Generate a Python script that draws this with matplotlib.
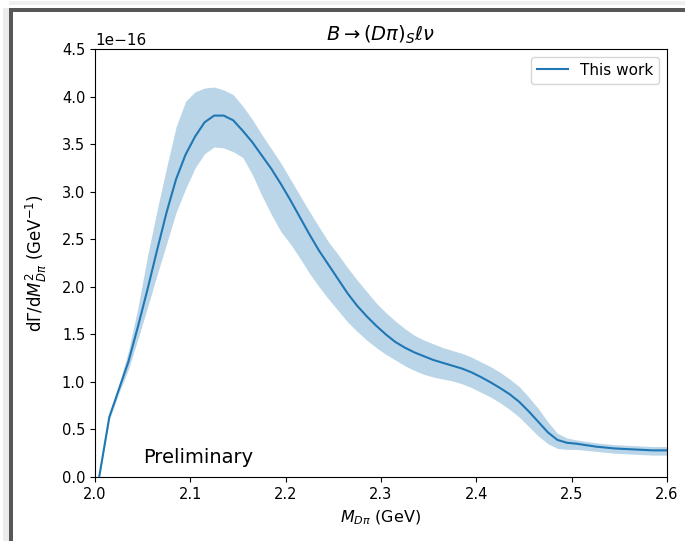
#!/usr/bin/env python3
# -*- coding: utf-8 -*-
"""
Differential rate dGamma/dM^2 for B -> (D pi)_S l nu with error band
"""
import numpy as np
import matplotlib.pyplot as plt
from matplotlib.patches import Rectangle

# invariant mass grid (GeV)
m_dpi = [2.0044, 2.015, 2.025, 2.035, 2.045, 2.055, 2.065, 2.075, 2.085,
         2.095, 2.105, 2.115, 2.125, 2.135, 2.145, 2.155, 2.165, 2.175,
         2.185, 2.195, 2.205, 2.215, 2.225, 2.235, 2.245, 2.255, 2.265,
         2.275, 2.285, 2.295, 2.305, 2.315, 2.325, 2.335, 2.345, 2.355,
         2.365, 2.375, 2.385, 2.395, 2.405, 2.415, 2.425, 2.435, 2.445,
         2.455, 2.465, 2.475, 2.485, 2.495, 2.505, 2.525, 2.545, 2.565,
         2.585, 2.6]

# central value (units of 1e-16 GeV^-1)
central = [0.0, 0.63, 0.92, 1.21, 1.58, 1.97, 2.38, 2.78, 3.13,
           3.39, 3.58, 3.73, 3.80, 3.80, 3.75, 3.64, 3.52, 3.38,
           3.24, 3.08, 2.91, 2.73, 2.55, 2.38, 2.23, 2.08, 1.93,
           1.80, 1.69, 1.59, 1.50, 1.42, 1.36, 1.31, 1.27, 1.23,
           1.20, 1.17, 1.14, 1.10, 1.05, 0.995, 0.935, 0.87, 0.79,
           0.69, 0.58, 0.47, 0.39, 0.36, 0.35, 0.32, 0.30, 0.29,
           0.28, 0.28]

upper = [0.0, 0.66, 0.97, 1.32, 1.78, 2.32, 2.80, 3.25, 3.68,
         3.95, 4.05, 4.09, 4.10, 4.07, 4.02, 3.90, 3.76, 3.60,
         3.45, 3.30, 3.13, 2.96, 2.79, 2.63, 2.47, 2.34, 2.20,
         2.07, 1.95, 1.83, 1.73, 1.64, 1.56, 1.49, 1.44, 1.40,
         1.36, 1.33, 1.30, 1.26, 1.21, 1.16, 1.10, 1.03, 0.95,
         0.84, 0.72, 0.58, 0.46, 0.41, 0.39, 0.36, 0.34, 0.33,
         0.32, 0.32]

lower = [0.0, 0.60, 0.88, 1.13, 1.45, 1.78, 2.12, 2.45, 2.78,
         3.03, 3.25, 3.40, 3.47, 3.46, 3.42, 3.36, 3.18, 2.96,
         2.76, 2.58, 2.45, 2.30, 2.14, 2.00, 1.87, 1.75, 1.63,
         1.53, 1.44, 1.36, 1.29, 1.23, 1.17, 1.12, 1.08, 1.05,
         1.03, 1.01, 0.98, 0.94, 0.89, 0.84, 0.78, 0.71, 0.63,
         0.53, 0.43, 0.35, 0.30, 0.29, 0.29, 0.27, 0.25, 0.24,
         0.23, 0.23]

scale = 1e-16


def add_window_frame(fig):
    # screenshot-like frame: faint shadow plus dark border top and left
    W, H = fig.get_size_inches() * fig.dpi
    fig.patches.append(Rectangle((3 / W, 0), 6 / W, 1 - 8 / H,
                                 transform=fig.transFigure,
                                 color='#ececec', lw=0, zorder=-1))
    fig.patches.append(Rectangle((9 / W, 1 - 5 / H), 1, 4 / H,
                                 transform=fig.transFigure,
                                 color='#f0f0f0', lw=0, zorder=-1))
    fig.patches.append(Rectangle((9 / W, 0), 4 / W, 1 - 8 / H,
                                 transform=fig.transFigure,
                                 color='#575757', lw=0, zorder=0))
    fig.patches.append(Rectangle((9 / W, 1 - 12 / H), 1, 4 / H,
                                 transform=fig.transFigure,
                                 color='#575757', lw=0, zorder=0))


fig = plt.figure(figsize=(6.85, 5.41), dpi=100)
ax = fig.add_axes([95 / 685, 1 - 477 / 541, 572 / 685, 428 / 541])

x = np.array(m_dpi)
y = np.array(central) * scale
ax.fill_between(x, np.array(lower) * scale, np.array(upper) * scale,
                color='C0', alpha=0.3, lw=0)
ax.plot(x, y, color='C0', label='This work')

ax.text(2.05, 0.15 * scale, 'Preliminary', fontsize=14, va='baseline')

ax.set_xlim(2.0, 2.6)
ax.set_ylim(0, 4.5 * scale)
ax.set_yticks(np.arange(0, 4.51, 0.5) * scale)
ax.tick_params(labelsize=10.5)
ax.yaxis.get_offset_text().set_fontsize(11)
ax.set_title(r'$B \to (D\pi)_S \ell\nu$', fontsize=14)
ax.set_xlabel(r'$M_{D\pi}$ (GeV)', fontsize=11.5, labelpad=5)
ax.set_ylabel(r'd$\Gamma$/d$M^2_{D\pi}$ (GeV$^{-1}$)', fontsize=12,
              labelpad=9)
ax.legend(loc='upper right', fontsize=11)

add_window_frame(fig)

fig.savefig('out.png', dpi=100)
